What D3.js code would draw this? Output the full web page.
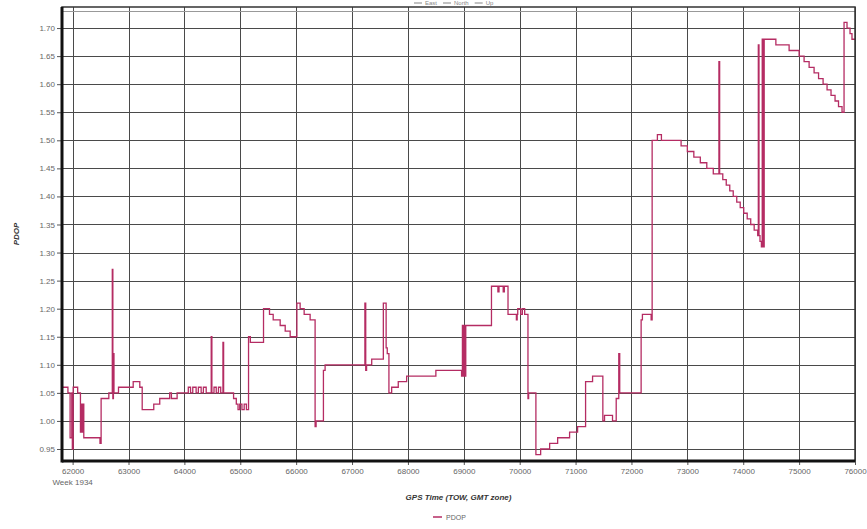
<!DOCTYPE html>
<html>
<head>
<meta charset="utf-8">
<script src="https://cdn.jsdelivr.net/npm/d3@7"></script>
<style>
  body { margin: 0; background: #fff; }
  svg { display: block; font-family: "Liberation Sans", Arial, sans-serif; }
</style>
</head>
<body>
<svg id="chart" width="867" height="529"></svg>
<script>
// GPS time of week (s) and PDOP (step series)
const gpsTime = [
  61810, 61916, 61955, 61985, 61995, 62010, 62090, 62140, 62160, 62175,
  62190, 62200, 62490, 62510, 62648, 62710, 62720, 62730, 62740, 62821,
  63084, 63202, 63245, 63452, 63559, 63737, 63768, 63870, 64070, 64110,
  64150, 64210, 64250, 64300, 64340, 64390, 64480, 64492, 64530, 64570,
  64610, 64650, 64690, 64702, 64880, 64929, 64960, 64990, 65030, 65070,
  65110, 65148, 65180, 65416, 65523, 65589, 65714, 65804, 65893, 66013,
  66071, 66143, 66250, 66339, 66357, 66488, 66518, 67230, 67245, 67260,
  67352, 67560, 67610, 67630, 67660, 67709, 67827, 67977, 68500, 68960,
  68975, 68990, 69005, 69020, 69035, 69495, 69610, 69630, 69705, 69725,
  69791, 69941, 69955, 69965, 70018, 70048, 70089, 70148, 70160, 70290,
  70375, 70536, 70679, 70893, 71036, 71179, 71304, 71488, 71518, 71661,
  71727, 71773, 71790, 72173, 72196, 72352, 72370, 72464, 72536, 72888,
  73000, 73116, 73232, 73348, 73464, 73565, 73578, 73634, 73696, 73759,
  73821, 73884, 73946, 74009, 74071, 74134, 74196, 74259, 74270, 74282,
  74300, 74325, 74340, 74352, 74375, 74584, 74821, 75000, 75089, 75179,
  75268, 75348, 75429, 75500, 75571, 75643, 75705, 75768, 75804, 75857,
  75911, 75946, 76000
];
const pdop = [
  1.06, 1.05, 0.97, 1.05, 0.95, 1.06, 1.05, 0.98, 1.03, 0.98,
  1.03, 0.97, 0.96, 1.04, 1.05, 1.27, 1.04, 1.12, 1.05, 1.06,
  1.07, 1.06, 1.02, 1.03, 1.04, 1.05, 1.04, 1.05, 1.06, 1.05,
  1.06, 1.05, 1.06, 1.05, 1.06, 1.05, 1.15, 1.05, 1.06, 1.05,
  1.06, 1.05, 1.14, 1.05, 1.04, 1.03, 1.02, 1.03, 1.02, 1.03,
  1.02, 1.15, 1.14, 1.20, 1.19, 1.18, 1.17, 1.16, 1.15, 1.21,
  1.20, 1.19, 1.18, 0.99, 1.00, 1.09, 1.10, 1.21, 1.09, 1.10,
  1.11, 1.21, 1.13, 1.12, 1.05, 1.06, 1.07, 1.08, 1.09, 1.08,
  1.17, 1.08, 1.17, 1.08, 1.17, 1.24, 1.23, 1.24, 1.23, 1.24,
  1.19, 1.18, 1.19, 1.20, 1.19, 1.20, 1.19, 1.04, 1.05, 0.94,
  0.95, 0.96, 0.97, 0.98, 0.99, 1.07, 1.08, 1.00, 1.01, 1.00,
  1.04, 1.12, 1.05, 1.18, 1.19, 1.18, 1.50, 1.51, 1.50, 1.49,
  1.48, 1.47, 1.46, 1.45, 1.44, 1.64, 1.44, 1.43, 1.42, 1.41,
  1.40, 1.39, 1.38, 1.37, 1.36, 1.35, 1.34, 1.33, 1.67, 1.33,
  1.32, 1.31, 1.68, 1.31, 1.68, 1.67, 1.66, 1.65, 1.64, 1.63,
  1.62, 1.61, 1.60, 1.59, 1.58, 1.57, 1.56, 1.55, 1.71, 1.70,
  1.69, 1.68, 1.68
];
const xTicks = [62000, 63000, 64000, 65000, 66000, 67000, 68000, 69000,
  70000, 71000, 72000, 73000, 74000, 75000, 76000];
const yTicks = [0.95, 1.00, 1.05, 1.10, 1.15, 1.20, 1.25, 1.30, 1.35,
  1.40, 1.45, 1.50, 1.55, 1.60, 1.65, 1.70];
const topSeries = ["East", "North", "Up"];
const seriesName = "PDOP";

const svg = d3.select("#chart");
const plotL = 62, plotR = 855, plotT = 7, plotB = 461;
const lineColor = "#b52c63";

const x = d3.scaleLinear().domain([61810, 76000]).range([plotL, plotR]);
const y = d3.scaleLinear().domain([0.9286, 1.7375]).range([plotB, plotT]);

// grid
const grid = svg.append("g").attr("stroke", "#4a4a4a").attr("stroke-width", 1);
grid.selectAll(".vg").data(xTicks).enter().append("line")
  .attr("x1", d => Math.round(x(d)) + 0.5).attr("x2", d => Math.round(x(d)) + 0.5)
  .attr("y1", plotT).attr("y2", plotB);
grid.selectAll(".hg").data(yTicks).enter().append("line")
  .attr("x1", plotL).attr("x2", plotR)
  .attr("y1", d => Math.round(y(d)) + 0.5).attr("y2", d => Math.round(y(d)) + 0.5);
svg.append("line").attr("x1", plotL).attr("x2", plotR).attr("y1", 11.5).attr("y2", 11.5)
  .attr("stroke", "#999").attr("stroke-width", 1);

// axes
const xAxis = svg.append("g").attr("transform", `translate(0,${plotB})`)
  .call(d3.axisBottom(x).tickValues(xTicks).tickFormat(d3.format("d")).tickSize(4).tickPadding(3));
const yAxis = svg.append("g").attr("transform", `translate(${plotL},0)`)
  .call(d3.axisLeft(y).tickValues(yTicks).tickFormat(d3.format(".2f")).tickSize(5).tickPadding(2));
[xAxis, yAxis].forEach(a => {
  a.select(".domain").remove();
  a.selectAll(".tick line").attr("stroke", "#555");
  a.selectAll(".tick text").attr("fill", "#666").style("font-size", "8px");
});

svg.append("text").attr("x", x(62000)).attr("y", 485).attr("text-anchor", "middle")
  .attr("fill", "#666").style("font-size", "8px").text("Week 1934");

// series
const line = d3.line().x(d => x(d[0])).y(d => y(d[1])).curve(d3.curveStepAfter);
svg.append("path")
  .datum(gpsTime.map((t, i) => [t, pdop[i]]))
  .attr("fill", "none").attr("stroke", lineColor).attr("stroke-width", 1.3)
  .attr("d", line);

// frame
svg.append("rect").attr("x", plotL).attr("y", plotT).attr("width", plotR - plotL).attr("height", plotB - plotT)
  .attr("fill", "none").attr("stroke", "#333").attr("stroke-width", 1.5);
svg.append("line").attr("x1", plotL).attr("x2", plotL).attr("y1", plotT).attr("y2", plotB + 1.5)
  .attr("stroke", "#111").attr("stroke-width", 3);
svg.append("line").attr("x1", plotL).attr("x2", plotR).attr("y1", plotB).attr("y2", plotB)
  .attr("stroke", "#111").attr("stroke-width", 3);

// titles
svg.append("text").attr("x", (plotL + plotR) / 2).attr("y", 500).attr("text-anchor", "middle")
  .style("font-size", "8px").style("font-weight", "bold").style("font-style", "italic")
  .attr("fill", "#333").text("GPS Time (TOW, GMT zone)");
svg.append("text").attr("transform", `translate(19,${(plotT + plotB) / 2}) rotate(-90)`)
  .attr("text-anchor", "middle").style("font-size", "8px").style("font-weight", "bold")
  .style("font-style", "italic").attr("fill", "#333").text(seriesName);

// bottom legend
const leg = svg.append("g").attr("transform", "translate(433,517)");
leg.append("line").attr("x1", 0).attr("x2", 9).attr("y1", 0).attr("y2", 0)
  .attr("stroke", lineColor).attr("stroke-width", 1.5);
leg.append("text").attr("x", 13).attr("y", 3).attr("fill", "#666")
  .style("font-size", "7px").text(seriesName);

// top legend (squeezed into the strip above the frame)
const tl = svg.append("g").attr("transform", "translate(414,3)");
let off = 0;
topSeries.forEach(name => {
  tl.append("line").attr("x1", off).attr("x2", off + 8).attr("y1", 0).attr("y2", 0)
    .attr("stroke", "#999").attr("stroke-width", 1.2);
  const t = tl.append("text").attr("x", off + 11).attr("y", 2.3).attr("fill", "#888")
    .style("font-size", "6px").text(name);
  off += 11 + t.node().getComputedTextLength() + 6;
});
</script>
</body>
</html>
